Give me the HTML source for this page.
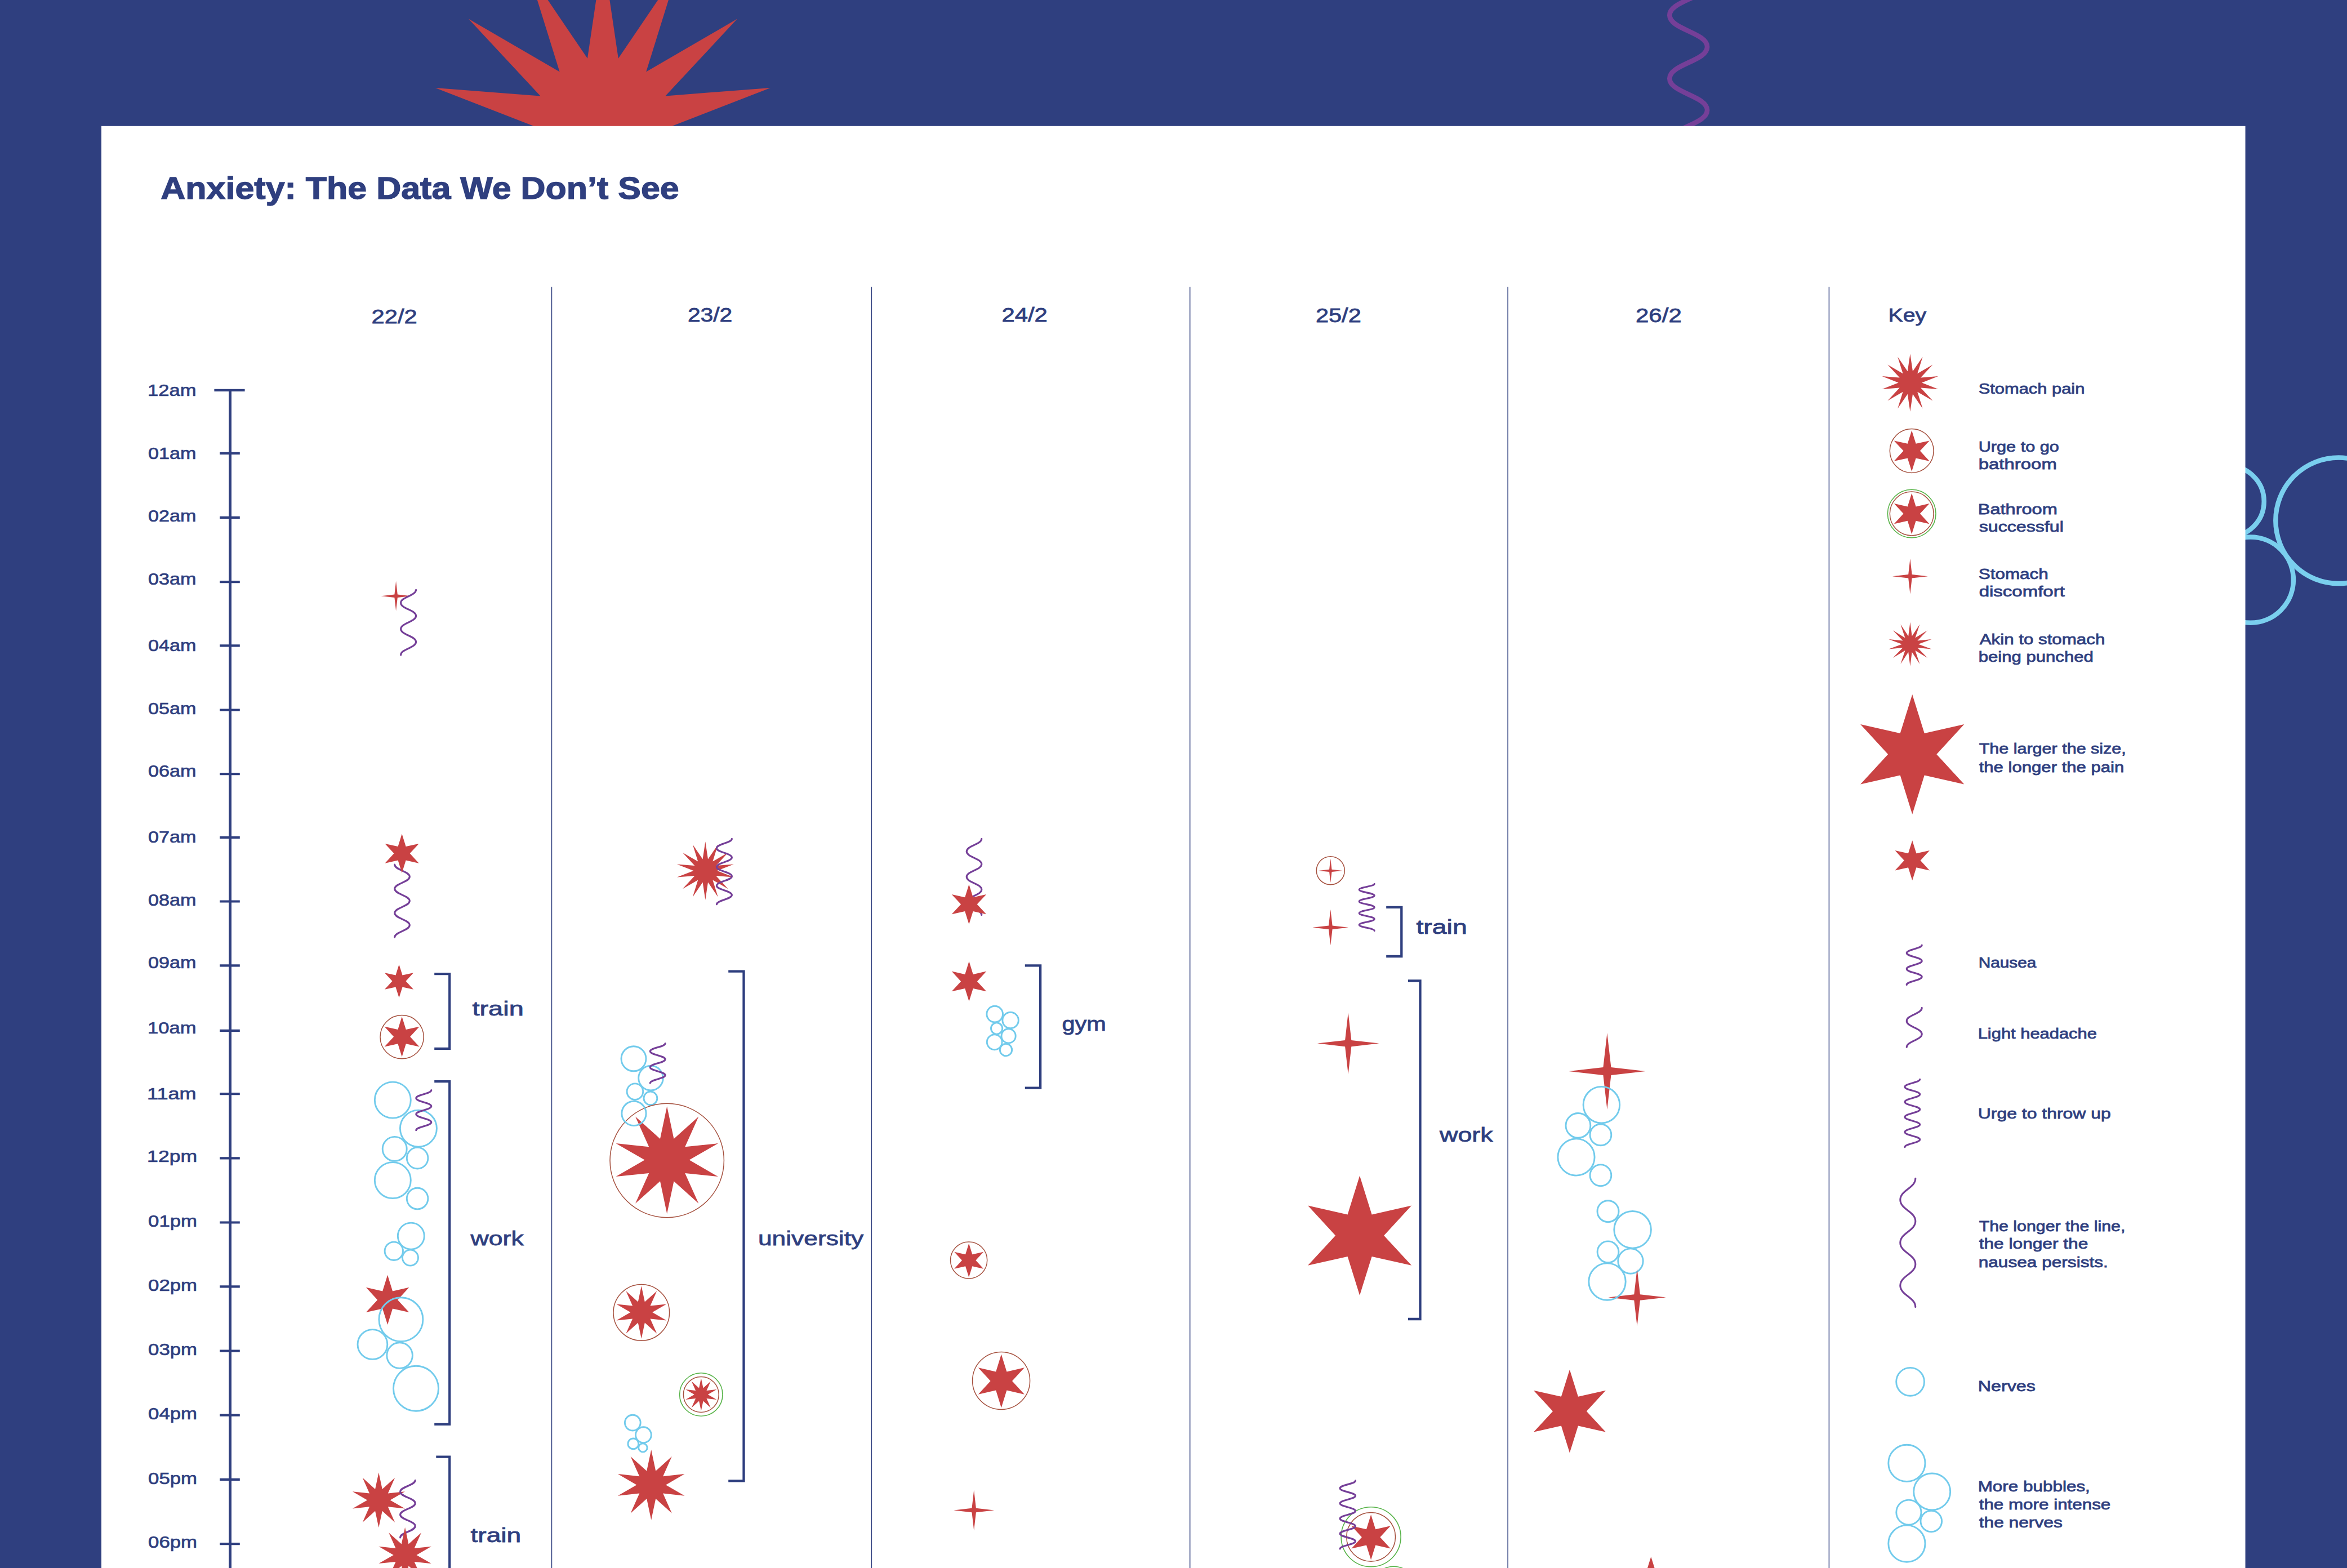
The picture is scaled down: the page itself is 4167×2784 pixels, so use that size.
<!DOCTYPE html>
<html lang="en">
<head>
<meta charset="utf-8">
<title>Anxiety: The Data We Don’t See</title>
<style>html,body{margin:0;padding:0;background:#2f3f7f;}body{width:4167px;height:2784px;overflow:hidden;}svg{display:block;}text{white-space:pre;}</style>
</head>
<body>
<svg width="4167" height="2784" viewBox="0 0 4167 2784">
<rect width="4167" height="2784" fill="#2f3f7f"/>
<polygon points="1070.4,-81.3 1097.8,103.8 1202.8,-51.1 1147.2,127.6 1308.9,33.6 1181.3,170.4 1367.9,155.9 1193.5,223.8 1367.9,291.7 1181.3,277.2 1308.9,414 1147.2,320 1202.8,498.7 1097.8,343.8 1070.4,528.9 1043,343.8 938,498.7 993.6,320 831.9,414 959.5,277.2 772.9,291.7 947.3,223.8 772.9,155.9 959.5,170.4 831.9,33.6 993.6,127.6 938,-51.1 1043,103.8" fill="#c94243"/>
<path d="M3031.1 -29.2C3031.1 -3.9 2964.3 1.7 2964.3 27C2964.3 52.3 3031.1 57.9 3031.1 83.2C3031.1 108.5 2964.3 114.1 2964.3 139.4C2964.3 164.7 3031.1 170.3 3031.1 195.6C3031.1 220.9 2964.3 226.5 2964.3 251.8C2964.3 277.1 3031.1 282.7 3031.1 308" fill="none" stroke="#753f98" stroke-width="8.7" stroke-linecap="round"/>
<circle cx="4152.1" cy="924.3" r="111.8" fill="none" stroke="#7acfee" stroke-width="8.5"/>
<circle cx="3995.8" cy="1029.6" r="76.1" fill="none" stroke="#7acfee" stroke-width="8.5"/>
<circle cx="3956.7" cy="890.2" r="63" fill="none" stroke="#7acfee" stroke-width="8.5"/>
<rect x="180" y="223.8" width="3806.5" height="2565.2" fill="#fff"/>
<g font-family='"Liberation Sans", sans-serif' fill="#2f3f7f">
<text x="285.35" y="352.8" font-size="55" textLength="920.39" lengthAdjust="spacingAndGlyphs" font-weight="bold" stroke="#2f3f7f" stroke-width="1.3">Anxiety: The Data We Don’t See</text>
<line x1="979.5" y1="509.6" x2="979.5" y2="2789" stroke="#2f3f7f" stroke-width="1.5"/>
<line x1="1547.4" y1="509.6" x2="1547.4" y2="2789" stroke="#2f3f7f" stroke-width="1.5"/>
<line x1="2112.7" y1="509.6" x2="2112.7" y2="2789" stroke="#2f3f7f" stroke-width="1.5"/>
<line x1="2677.1" y1="509.6" x2="2677.1" y2="2789" stroke="#2f3f7f" stroke-width="1.5"/>
<line x1="3247.4" y1="509.6" x2="3247.4" y2="2789" stroke="#2f3f7f" stroke-width="1.5"/>
<text x="659.43" y="574.4" font-size="35.7" textLength="81.40" lengthAdjust="spacingAndGlyphs" stroke="#2f3f7f" stroke-width="0.8">22/2</text>
<text x="1220.93" y="570.9" font-size="35.7" textLength="79.35" lengthAdjust="spacingAndGlyphs" stroke="#2f3f7f" stroke-width="0.8">23/2</text>
<text x="1778.43" y="570.9" font-size="35.7" textLength="81.39" lengthAdjust="spacingAndGlyphs" stroke="#2f3f7f" stroke-width="0.8">24/2</text>
<text x="2335.93" y="571.6" font-size="35.7" textLength="80.85" lengthAdjust="spacingAndGlyphs" stroke="#2f3f7f" stroke-width="0.8">25/2</text>
<text x="2903.93" y="571.6" font-size="35.7" textLength="81.89" lengthAdjust="spacingAndGlyphs" stroke="#2f3f7f" stroke-width="0.8">26/2</text>
<text x="3352.49" y="570.9" font-size="33.5" textLength="67.66" lengthAdjust="spacingAndGlyphs" stroke="#2f3f7f" stroke-width="0.8">Key</text>
<line x1="408.6" y1="691" x2="408.6" y2="2789" stroke="#2f3f7f" stroke-width="4.8"/>
<line x1="380.4" y1="692.9" x2="434.6" y2="692.9" stroke="#2f3f7f" stroke-width="4.2"/>
<text x="262.13" y="703.3" font-size="29" textLength="86.39" lengthAdjust="spacingAndGlyphs" stroke="#2f3f7f" stroke-width="0.7">12am</text>
<line x1="390.2" y1="804.9" x2="425.8" y2="804.9" stroke="#2f3f7f" stroke-width="4.2"/>
<text x="263.13" y="814.6" font-size="29" textLength="85.33" lengthAdjust="spacingAndGlyphs" stroke="#2f3f7f" stroke-width="0.7">01am</text>
<line x1="390.2" y1="918.9" x2="425.8" y2="918.9" stroke="#2f3f7f" stroke-width="4.2"/>
<text x="263.13" y="926.4" font-size="29" textLength="85.33" lengthAdjust="spacingAndGlyphs" stroke="#2f3f7f" stroke-width="0.7">02am</text>
<line x1="390.2" y1="1033.1" x2="425.8" y2="1033.1" stroke="#2f3f7f" stroke-width="4.2"/>
<text x="263.13" y="1037.5" font-size="29" textLength="85.33" lengthAdjust="spacingAndGlyphs" stroke="#2f3f7f" stroke-width="0.7">03am</text>
<line x1="390.2" y1="1146.3" x2="425.8" y2="1146.3" stroke="#2f3f7f" stroke-width="4.2"/>
<text x="263.13" y="1156.4" font-size="29" textLength="85.33" lengthAdjust="spacingAndGlyphs" stroke="#2f3f7f" stroke-width="0.7">04am</text>
<line x1="390.2" y1="1260.5" x2="425.8" y2="1260.5" stroke="#2f3f7f" stroke-width="4.2"/>
<text x="263.13" y="1267.6" font-size="29" textLength="85.33" lengthAdjust="spacingAndGlyphs" stroke="#2f3f7f" stroke-width="0.7">05am</text>
<line x1="390.2" y1="1374.2" x2="425.8" y2="1374.2" stroke="#2f3f7f" stroke-width="4.2"/>
<text x="263.13" y="1378.6" font-size="29" textLength="85.33" lengthAdjust="spacingAndGlyphs" stroke="#2f3f7f" stroke-width="0.7">06am</text>
<line x1="390.2" y1="1486.9" x2="425.8" y2="1486.9" stroke="#2f3f7f" stroke-width="4.2"/>
<text x="263.13" y="1496.3" font-size="29" textLength="85.33" lengthAdjust="spacingAndGlyphs" stroke="#2f3f7f" stroke-width="0.7">07am</text>
<line x1="390.2" y1="1600.5" x2="425.8" y2="1600.5" stroke="#2f3f7f" stroke-width="4.2"/>
<text x="263.13" y="1608.4" font-size="29" textLength="85.33" lengthAdjust="spacingAndGlyphs" stroke="#2f3f7f" stroke-width="0.7">08am</text>
<line x1="390.2" y1="1714.4" x2="425.8" y2="1714.4" stroke="#2f3f7f" stroke-width="4.2"/>
<text x="263.13" y="1719.3" font-size="29" textLength="85.33" lengthAdjust="spacingAndGlyphs" stroke="#2f3f7f" stroke-width="0.7">09am</text>
<line x1="390.2" y1="1829.8" x2="425.8" y2="1829.8" stroke="#2f3f7f" stroke-width="4.2"/>
<text x="262.13" y="1834.6" font-size="29" textLength="86.39" lengthAdjust="spacingAndGlyphs" stroke="#2f3f7f" stroke-width="0.7">10am</text>
<line x1="390.2" y1="1942.2" x2="425.8" y2="1942.2" stroke="#2f3f7f" stroke-width="4.2"/>
<text x="261.13" y="1951.9" font-size="29" textLength="87.43" lengthAdjust="spacingAndGlyphs" stroke="#2f3f7f" stroke-width="0.7">11am</text>
<line x1="390.2" y1="2056.4" x2="425.8" y2="2056.4" stroke="#2f3f7f" stroke-width="4.2"/>
<text x="261.13" y="2063.4" font-size="29" textLength="88.95" lengthAdjust="spacingAndGlyphs" stroke="#2f3f7f" stroke-width="0.7">12pm</text>
<line x1="390.2" y1="2170.5" x2="425.8" y2="2170.5" stroke="#2f3f7f" stroke-width="4.2"/>
<text x="263.13" y="2177.7" font-size="29" textLength="86.84" lengthAdjust="spacingAndGlyphs" stroke="#2f3f7f" stroke-width="0.7">01pm</text>
<line x1="390.2" y1="2284.4" x2="425.8" y2="2284.4" stroke="#2f3f7f" stroke-width="4.2"/>
<text x="263.13" y="2291.8" font-size="29" textLength="86.84" lengthAdjust="spacingAndGlyphs" stroke="#2f3f7f" stroke-width="0.7">02pm</text>
<line x1="390.2" y1="2398.6" x2="425.8" y2="2398.6" stroke="#2f3f7f" stroke-width="4.2"/>
<text x="263.13" y="2405.7" font-size="29" textLength="86.84" lengthAdjust="spacingAndGlyphs" stroke="#2f3f7f" stroke-width="0.7">03pm</text>
<line x1="390.2" y1="2512.6" x2="425.8" y2="2512.6" stroke="#2f3f7f" stroke-width="4.2"/>
<text x="263.13" y="2520" font-size="29" textLength="86.84" lengthAdjust="spacingAndGlyphs" stroke="#2f3f7f" stroke-width="0.7">04pm</text>
<line x1="390.2" y1="2626.9" x2="425.8" y2="2626.9" stroke="#2f3f7f" stroke-width="4.2"/>
<text x="263.13" y="2634.5" font-size="29" textLength="86.84" lengthAdjust="spacingAndGlyphs" stroke="#2f3f7f" stroke-width="0.7">05pm</text>
<line x1="390.2" y1="2741.1" x2="425.8" y2="2741.1" stroke="#2f3f7f" stroke-width="4.2"/>
<text x="263.13" y="2748.1" font-size="29" textLength="86.84" lengthAdjust="spacingAndGlyphs" stroke="#2f3f7f" stroke-width="0.7">06pm</text>
<polygon points="703.1,1031.7 705.8,1055.5 729.6,1058.2 705.8,1060.9 703.1,1084.7 700.4,1060.9 676.6,1058.2 700.4,1055.5" fill="#c94243"/>
<path d="M738.6 1047.3C738.6 1057.7 711.6 1060 711.6 1070.4C711.6 1080.8 738.6 1083.1 738.6 1093.5C738.6 1103.9 711.6 1106.3 711.6 1116.7C711.6 1127.1 738.6 1129.4 738.6 1139.8C738.6 1150.2 711.6 1152.5 711.6 1162.9" fill="none" stroke="#753f98" stroke-width="3.1" stroke-linecap="round"/>
<path d="M700.7 1535.1C700.7 1544.8 727.3 1546.9 727.3 1556.6C727.3 1566.3 700.7 1568.4 700.7 1578.1C700.7 1587.8 727.3 1589.9 727.3 1599.6C727.3 1609.3 700.7 1611.4 700.7 1621.1C700.7 1630.8 727.3 1632.9 727.3 1642.6C727.3 1652.3 700.7 1654.4 700.7 1664.1" fill="none" stroke="#753f98" stroke-width="3.1" stroke-linecap="round"/>
<polygon points="713.6,1480.5 720.6,1503.1 743.7,1497.9 727.7,1515.3 743.7,1532.7 720.6,1527.5 713.6,1550.1 706.6,1527.5 683.5,1532.7 699.5,1515.3 683.5,1497.9 706.6,1503.1" fill="#c94243"/>
<polygon points="708.5,1712.4 714.5,1731.6 734.1,1727.2 720.5,1742 734.1,1756.8 714.5,1752.4 708.5,1771.6 702.5,1752.4 682.9,1756.8 696.5,1742 682.9,1727.2 702.5,1731.6" fill="#c94243"/>
<circle cx="713.6" cy="1841.2" r="38.6" fill="none" stroke="#a5503e" stroke-width="1.5"/>
<polygon points="713.6,1804.9 720.8,1828.1 744.6,1822.8 728.1,1840.7 744.6,1858.6 720.8,1853.3 713.6,1876.5 706.4,1853.3 682.6,1858.6 699.1,1840.7 682.6,1822.8 706.4,1828.1" fill="#c94243"/>
<path d="M771.2 1729.2 H798.2 V1861.8 H771.2" fill="none" stroke="#2f3f7f" stroke-width="4.2" stroke-linejoin="miter"/>
<text x="838.47" y="1802.8" font-size="34.5" textLength="91.27" lengthAdjust="spacingAndGlyphs" stroke="#2f3f7f" stroke-width="0.8">train</text>
<circle cx="697.3" cy="1953.1" r="32" fill="none" stroke="#72cbec" stroke-width="2.9"/>
<circle cx="742.9" cy="2003.6" r="32.5" fill="none" stroke="#72cbec" stroke-width="2.9"/>
<circle cx="700.7" cy="2039.9" r="21.5" fill="none" stroke="#72cbec" stroke-width="2.9"/>
<circle cx="741.1" cy="2056.2" r="18.8" fill="none" stroke="#72cbec" stroke-width="2.9"/>
<circle cx="697.3" cy="2095.6" r="32" fill="none" stroke="#72cbec" stroke-width="2.9"/>
<circle cx="741.1" cy="2128.1" r="18.8" fill="none" stroke="#72cbec" stroke-width="2.9"/>
<circle cx="729.8" cy="2194.6" r="23.5" fill="none" stroke="#72cbec" stroke-width="2.9"/>
<circle cx="699.3" cy="2221.3" r="16.2" fill="none" stroke="#72cbec" stroke-width="2.9"/>
<circle cx="728.5" cy="2233.1" r="14" fill="none" stroke="#72cbec" stroke-width="2.9"/>
<path d="M765.8 1935.6C765.8 1942 738.8 1943.4 738.8 1949.8C738.8 1956.2 765.8 1957.7 765.8 1964.1C765.8 1970.5 738.8 1971.9 738.8 1978.3C738.8 1984.7 765.8 1986.2 765.8 1992.6C765.8 1999 738.8 2000.4 738.8 2006.8" fill="none" stroke="#753f98" stroke-width="3.1" stroke-linecap="round"/>
<polygon points="688.1,2263.8 697,2292.4 726.3,2285.8 706,2307.9 726.3,2330 697,2323.4 688.1,2352 679.2,2323.4 649.9,2330 670.2,2307.9 649.9,2285.8 679.2,2292.4" fill="#c94243"/>
<circle cx="711.9" cy="2342.7" r="39" fill="none" stroke="#72cbec" stroke-width="2.9"/>
<circle cx="661.4" cy="2387" r="26.4" fill="none" stroke="#72cbec" stroke-width="2.9"/>
<circle cx="709.6" cy="2406.6" r="22.8" fill="none" stroke="#72cbec" stroke-width="2.9"/>
<circle cx="738.5" cy="2465.2" r="40" fill="none" stroke="#72cbec" stroke-width="2.9"/>
<path d="M771.2 1920.2 H798.2 V2528.8 H771.2" fill="none" stroke="#2f3f7f" stroke-width="4.2" stroke-linejoin="miter"/>
<text x="835.46" y="2210.6" font-size="34.5" textLength="94.28" lengthAdjust="spacingAndGlyphs" stroke="#2f3f7f" stroke-width="0.8">work</text>
<polygon points="672.4,2614.5 678.7,2644.1 701.1,2623.8 688.8,2651.5 718.9,2648.3 692.7,2663.4 718.9,2678.5 688.8,2675.3 701.1,2703 678.7,2682.7 672.4,2712.3 666.1,2682.7 643.7,2703 656,2675.3 625.9,2678.5 652.1,2663.4 625.9,2648.3 656,2651.5 643.7,2623.8 666.1,2644.1" fill="#c94243"/>
<path d="M737.2 2628.3C737.2 2637.4 710.6 2639.5 710.6 2648.6C710.6 2657.8 737.2 2659.8 737.2 2668.9C737.2 2678.1 710.6 2680.1 710.6 2689.3C710.6 2698.4 737.2 2700.4 737.2 2709.6C737.2 2718.7 710.6 2720.8 710.6 2729.9" fill="none" stroke="#753f98" stroke-width="3.1" stroke-linecap="round"/>
<polygon points="719.1,2711.8 725.4,2741.5 748,2721.2 735.6,2748.9 765.8,2745.7 739.5,2760.9 765.8,2776.1 735.6,2772.9 748,2800.6 725.4,2780.3 719.1,2810 712.8,2780.3 690.2,2800.6 702.6,2772.9 672.4,2776.1 698.7,2760.9 672.4,2745.7 702.6,2748.9 690.2,2721.2 712.8,2741.5" fill="#c94243"/>
<path d="M774.3 2586.7 H798.2 V2794" fill="none" stroke="#2f3f7f" stroke-width="4.2" stroke-linejoin="miter"/>
<text x="835.46" y="2738.1" font-size="34.5" textLength="89.75" lengthAdjust="spacingAndGlyphs" stroke="#2f3f7f" stroke-width="0.8">train</text>
<polygon points="1252.3,1494.3 1257,1525.6 1274.7,1499.4 1265.4,1529.6 1292.7,1513.8 1271.2,1536.9 1302.7,1534.5 1273.2,1546 1302.7,1557.5 1271.2,1555.1 1292.7,1578.2 1265.4,1562.4 1274.7,1592.6 1257,1566.4 1252.3,1597.7 1247.6,1566.4 1229.9,1592.6 1239.2,1562.4 1211.9,1578.2 1233.4,1555.1 1201.9,1557.5 1231.4,1546 1201.9,1534.5 1233.4,1536.9 1211.9,1513.8 1239.2,1529.6 1229.9,1499.4 1247.6,1525.6" fill="#c94243"/>
<path d="M1299.4 1489.2C1299.4 1496.7 1272.4 1498.4 1272.4 1505.9C1272.4 1513.3 1299.4 1515 1299.4 1522.5C1299.4 1530 1272.4 1531.7 1272.4 1539.2C1272.4 1546.6 1299.4 1548.3 1299.4 1555.8C1299.4 1563.3 1272.4 1565 1272.4 1572.5C1272.4 1579.9 1299.4 1581.6 1299.4 1589.1C1299.4 1596.6 1272.4 1598.3 1272.4 1605.8" fill="none" stroke="#753f98" stroke-width="3.1" stroke-linecap="round"/>
<circle cx="1125" cy="1879.8" r="22" fill="none" stroke="#72cbec" stroke-width="2.9"/>
<circle cx="1155.5" cy="1914.1" r="21.8" fill="none" stroke="#72cbec" stroke-width="2.9"/>
<circle cx="1127.4" cy="1938.2" r="14.3" fill="none" stroke="#72cbec" stroke-width="2.9"/>
<circle cx="1154.9" cy="1949.9" r="11.9" fill="none" stroke="#72cbec" stroke-width="2.9"/>
<path d="M1181.1 1852.5C1181.1 1858.9 1154.3 1860.3 1154.3 1866.6C1154.3 1873 1181.1 1874.4 1181.1 1880.7C1181.1 1887.1 1154.3 1888.5 1154.3 1894.9C1154.3 1901.2 1181.1 1902.6 1181.1 1909C1181.1 1915.3 1154.3 1916.7 1154.3 1923.1" fill="none" stroke="#753f98" stroke-width="3.1" stroke-linecap="round"/>
<circle cx="1184.2" cy="2060.5" r="101.2" fill="none" stroke="#a5503e" stroke-width="1.5"/>
<polygon points="1184.2,1964.2 1196.4,2021.9 1240.3,1982.4 1216.2,2036.3 1274.9,2030.1 1223.8,2059.6 1274.9,2089.1 1216.2,2082.9 1240.3,2136.8 1196.4,2097.3 1184.2,2155 1172,2097.3 1128.1,2136.8 1152.2,2082.9 1093.5,2089.1 1144.6,2059.6 1093.5,2030.1 1152.2,2036.3 1128.1,1982.4 1172,2021.9" fill="#c94243"/>
<circle cx="1125.5" cy="1976.9" r="21.6" fill="none" stroke="#72cbec" stroke-width="2.9"/>
<circle cx="1138.8" cy="2330.4" r="49.8" fill="none" stroke="#a5503e" stroke-width="1.5"/>
<polygon points="1138.8,2283.3 1144.8,2311.6 1166.2,2292.2 1154.5,2318.6 1183.2,2315.6 1158.2,2330 1183.2,2344.4 1154.5,2341.4 1166.2,2367.8 1144.8,2348.4 1138.8,2376.7 1132.8,2348.4 1111.4,2367.8 1123.1,2341.4 1094.4,2344.4 1119.4,2330 1094.4,2315.6 1123.1,2318.6 1111.4,2292.2 1132.8,2311.6" fill="#c94243"/>
<circle cx="1244.8" cy="2476" r="38.2" fill="none" stroke="#57b348" stroke-width="1.6"/>
<circle cx="1244.8" cy="2476" r="31.4" fill="none" stroke="#a5503e" stroke-width="1.5"/>
<polygon points="1244.8,2447 1248.5,2464.6 1261.8,2452.5 1254.5,2468.9 1272.4,2467 1256.8,2476 1272.4,2485 1254.5,2483.1 1261.8,2499.5 1248.5,2487.4 1244.8,2505 1241.1,2487.4 1227.8,2499.5 1235.1,2483.1 1217.2,2485 1232.8,2476 1217.2,2467 1235.1,2468.9 1227.8,2452.5 1241.1,2464.6" fill="#c94243"/>
<circle cx="1123.3" cy="2526.1" r="13.9" fill="none" stroke="#72cbec" stroke-width="2.9"/>
<circle cx="1142.4" cy="2547.7" r="13.9" fill="none" stroke="#72cbec" stroke-width="2.9"/>
<circle cx="1124.3" cy="2563.4" r="9.4" fill="none" stroke="#72cbec" stroke-width="2.9"/>
<circle cx="1141.4" cy="2570.4" r="7.7" fill="none" stroke="#72cbec" stroke-width="2.9"/>
<polygon points="1156.2,2574.1 1164.2,2611.8 1192.8,2586 1177.1,2621.2 1215.5,2617.1 1182.1,2636.4 1215.5,2655.7 1177.1,2651.6 1192.8,2686.8 1164.2,2661 1156.2,2698.7 1148.2,2661 1119.6,2686.8 1135.3,2651.6 1096.9,2655.7 1130.3,2636.4 1096.9,2617.1 1135.3,2621.2 1119.6,2586 1148.2,2611.8" fill="#c94243"/>
<path d="M1293.2 1724.7 H1320.5 V2629.3 H1293.2" fill="none" stroke="#2f3f7f" stroke-width="4.3" stroke-linejoin="miter"/>
<text x="1345.96" y="2210.8" font-size="34.5" textLength="187.26" lengthAdjust="spacingAndGlyphs" stroke="#2f3f7f" stroke-width="0.8">university</text>
<path d="M1742.8 1489.2C1742.8 1499.3 1716.2 1501.6 1716.2 1511.8C1716.2 1521.9 1742.8 1524.2 1742.8 1534.3C1742.8 1544.4 1716.2 1546.7 1716.2 1556.8C1716.2 1567 1742.8 1569.3 1742.8 1579.4C1742.8 1589.5 1716.2 1591.8 1716.2 1601.9C1716.2 1612.1 1742.8 1614.4 1742.8 1624.5" fill="none" stroke="#753f98" stroke-width="3.1" stroke-linecap="round"/>
<polygon points="1720.4,1570.2 1727.6,1593.2 1751.1,1587.9 1734.7,1605.6 1751.1,1623.3 1727.6,1618 1720.4,1641 1713.2,1618 1689.7,1623.3 1706.1,1605.6 1689.7,1587.9 1713.2,1593.2" fill="#c94243"/>
<polygon points="1720.5,1706.8 1727.7,1729.9 1751.3,1724.6 1734.9,1742.4 1751.3,1760.2 1727.7,1754.9 1720.5,1778 1713.3,1754.9 1689.7,1760.2 1706.1,1742.4 1689.7,1724.6 1713.3,1729.9" fill="#c94243"/>
<circle cx="1766.2" cy="1800.6" r="14.3" fill="none" stroke="#72cbec" stroke-width="2.9"/>
<circle cx="1794.1" cy="1811.5" r="14.2" fill="none" stroke="#72cbec" stroke-width="2.9"/>
<circle cx="1769.6" cy="1826" r="10.1" fill="none" stroke="#72cbec" stroke-width="2.9"/>
<circle cx="1790.6" cy="1839.4" r="12.6" fill="none" stroke="#72cbec" stroke-width="2.9"/>
<circle cx="1765.7" cy="1850.3" r="13.4" fill="none" stroke="#72cbec" stroke-width="2.9"/>
<circle cx="1786" cy="1864" r="10.7" fill="none" stroke="#72cbec" stroke-width="2.9"/>
<path d="M1819.8 1714.4 H1847.1 V1931.7 H1819.8" fill="none" stroke="#2f3f7f" stroke-width="4.3" stroke-linejoin="miter"/>
<text x="1885.46" y="1830" font-size="34.5" textLength="78.29" lengthAdjust="spacingAndGlyphs" stroke="#2f3f7f" stroke-width="0.8">gym</text>
<circle cx="1720.1" cy="2237.5" r="32.6" fill="none" stroke="#a5503e" stroke-width="1.5"/>
<polygon points="1720.2,2207.8 1726.3,2227.3 1746.2,2222.8 1732.4,2237.8 1746.2,2252.8 1726.3,2248.3 1720.2,2267.8 1714.1,2248.3 1694.2,2252.8 1708,2237.8 1694.2,2222.8 1714.1,2227.3" fill="#c94243"/>
<circle cx="1777.6" cy="2451.4" r="51" fill="none" stroke="#a5503e" stroke-width="1.5"/>
<polygon points="1777.8,2404.6 1787.4,2435.4 1818.8,2428.3 1797,2452 1818.8,2475.7 1787.4,2468.6 1777.8,2499.4 1768.2,2468.6 1736.8,2475.7 1758.6,2452 1736.8,2428.3 1768.2,2435.4" fill="#c94243"/>
<polygon points="1729.2,2645.4 1732.9,2677.8 1765.3,2681.5 1732.9,2685.2 1729.2,2717.6 1725.5,2685.2 1693.1,2681.5 1725.5,2677.8" fill="#c94243"/>
<circle cx="2362.3" cy="1545.7" r="25" fill="none" stroke="#a5503e" stroke-width="1.5"/>
<polygon points="2362.3,1524.5 2364.5,1543.7 2383.7,1545.9 2364.5,1548.1 2362.3,1567.3 2360.1,1548.1 2340.9,1545.9 2360.1,1543.7" fill="#c94243"/>
<polygon points="2362.3,1614.8 2365.6,1643.4 2394.2,1646.7 2365.6,1650 2362.3,1678.6 2359,1650 2330.4,1646.7 2359,1643.4" fill="#c94243"/>
<path d="M2440.2 1569.2C2440.2 1573.9 2413.2 1574.9 2413.2 1579.6C2413.2 1584.3 2440.2 1585.4 2440.2 1590C2440.2 1594.7 2413.2 1595.8 2413.2 1600.5C2413.2 1605.1 2440.2 1606.2 2440.2 1610.9C2440.2 1615.6 2413.2 1616.6 2413.2 1621.3C2413.2 1626 2440.2 1627 2440.2 1631.7C2440.2 1636.4 2413.2 1637.5 2413.2 1642.1C2413.2 1646.8 2440.2 1647.9 2440.2 1652.6" fill="none" stroke="#753f98" stroke-width="3.1" stroke-linecap="round"/>
<path d="M2461.2 1610.9 H2488.3 V1698 H2461.2" fill="none" stroke="#2f3f7f" stroke-width="4.3" stroke-linejoin="miter"/>
<text x="2514.46" y="1658.4" font-size="34.5" textLength="90.26" lengthAdjust="spacingAndGlyphs" stroke="#2f3f7f" stroke-width="0.8">train</text>
<polygon points="2393.7,1797.8 2399.3,1847 2448.5,1852.6 2399.3,1858.2 2393.7,1907.4 2388.1,1858.2 2338.9,1852.6 2388.1,1847" fill="#c94243"/>
<polygon points="2414.1,2087.5 2435.6,2156.5 2506.1,2140.6 2457.1,2193.7 2506.1,2246.8 2435.6,2230.9 2414.1,2299.9 2392.6,2230.9 2322.1,2246.8 2371.1,2193.7 2322.1,2140.6 2392.6,2156.5" fill="#c94243"/>
<path d="M2500 1741.5 H2521.5 V2342 H2500" fill="none" stroke="#2f3f7f" stroke-width="4.3" stroke-linejoin="miter"/>
<text x="2555.97" y="2027.4" font-size="34.5" textLength="94.76" lengthAdjust="spacingAndGlyphs" stroke="#2f3f7f" stroke-width="0.8">work</text>
<circle cx="2434.1" cy="2728.8" r="53" fill="none" stroke="#57b348" stroke-width="1.6"/>
<circle cx="2434.1" cy="2728.8" r="43.4" fill="none" stroke="#a5503e" stroke-width="1.5"/>
<polygon points="2434.1,2689.2 2442.2,2715.2 2468.8,2709.2 2450.3,2729.3 2468.8,2749.4 2442.2,2743.4 2434.1,2769.4 2426,2743.4 2399.4,2749.4 2417.9,2729.3 2399.4,2709.2 2426,2715.2" fill="#c94243"/>
<circle cx="2474.5" cy="2819.6" r="38.4" fill="none" stroke="#57b348" stroke-width="1.6"/>
<path d="M2406.5 2628.9C2406.5 2635 2379.1 2636.3 2379.1 2642.4C2379.1 2648.4 2406.5 2649.8 2406.5 2655.8C2406.5 2661.9 2379.1 2663.2 2379.1 2669.3C2379.1 2675.3 2406.5 2676.7 2406.5 2682.7C2406.5 2688.8 2379.1 2690.1 2379.1 2696.2C2379.1 2702.3 2406.5 2703.6 2406.5 2709.7C2406.5 2715.7 2379.1 2717.1 2379.1 2723.1C2379.1 2729.2 2406.5 2730.5 2406.5 2736.6C2406.5 2742.6 2379.1 2744 2379.1 2750" fill="none" stroke="#753f98" stroke-width="3.2" stroke-linecap="round"/>
<polygon points="2853.4,1834.1 2860.4,1895.1 2921.4,1902.1 2860.4,1909.1 2853.4,1970.1 2846.4,1909.1 2785.4,1902.1 2846.4,1895.1" fill="#c94243"/>
<circle cx="2843.4" cy="1961.7" r="32.3" fill="none" stroke="#72cbec" stroke-width="2.9"/>
<circle cx="2801.9" cy="1998.4" r="21.9" fill="none" stroke="#72cbec" stroke-width="2.9"/>
<circle cx="2841.9" cy="2014.9" r="18.9" fill="none" stroke="#72cbec" stroke-width="2.9"/>
<circle cx="2798.5" cy="2054.5" r="32.6" fill="none" stroke="#72cbec" stroke-width="2.9"/>
<circle cx="2841.9" cy="2086.8" r="18.9" fill="none" stroke="#72cbec" stroke-width="2.9"/>
<circle cx="2855" cy="2150.7" r="19" fill="none" stroke="#72cbec" stroke-width="2.9"/>
<circle cx="2898.6" cy="2183.3" r="32.8" fill="none" stroke="#72cbec" stroke-width="2.9"/>
<circle cx="2855" cy="2222.8" r="18.9" fill="none" stroke="#72cbec" stroke-width="2.9"/>
<circle cx="2895" cy="2239.1" r="22.2" fill="none" stroke="#72cbec" stroke-width="2.9"/>
<polygon points="2906.6,2252.2 2911.9,2298.2 2957.9,2303.5 2911.9,2308.8 2906.6,2354.8 2901.3,2308.8 2855.3,2303.5 2901.3,2298.2" fill="#c94243"/>
<circle cx="2853.5" cy="2275.6" r="32.7" fill="none" stroke="#72cbec" stroke-width="2.9"/>
<polygon points="2786.9,2431.8 2801.9,2479.8 2850.9,2468.8 2816.8,2505.7 2850.9,2542.6 2801.9,2531.6 2786.9,2579.6 2771.9,2531.6 2722.9,2542.6 2757,2505.7 2722.9,2468.8 2771.9,2479.8" fill="#c94243"/>
<polygon points="2931.3,2764 2943.9,2804.3 2985,2795 2956.4,2826 2985,2857 2943.9,2847.7 2931.3,2888 2918.7,2847.7 2877.6,2857 2906.2,2826 2877.6,2795 2918.7,2804.3" fill="#c94243"/>
<polygon points="3391.4,628.3 3396,659.3 3413.6,633.4 3404.3,663.3 3431.4,647.6 3410.1,670.5 3441.3,668.1 3412.1,679.5 3441.3,690.9 3410.1,688.5 3431.4,711.4 3404.3,695.7 3413.6,725.6 3396,699.7 3391.4,730.7 3386.8,699.7 3369.2,725.6 3378.5,695.7 3351.4,711.4 3372.7,688.5 3341.5,690.9 3370.7,679.5 3341.5,668.1 3372.7,670.5 3351.4,647.6 3378.5,663.3 3369.2,633.4 3386.8,659.3" fill="#c94243"/>
<text x="3512.70" y="699.2" font-size="26.5" textLength="188.64" lengthAdjust="spacingAndGlyphs" stroke="#2f3f7f" stroke-width="0.8">Stomach pain</text>
<circle cx="3394.2" cy="800.5" r="38.9" fill="none" stroke="#a5503e" stroke-width="1.5"/>
<polygon points="3394.2,764.2 3401.6,787.8 3425.7,782.4 3408.9,800.6 3425.7,818.8 3401.6,813.4 3394.2,837 3386.8,813.4 3362.7,818.8 3379.5,800.6 3362.7,782.4 3386.8,787.8" fill="#c94243"/>
<text x="3512.70" y="801.7" font-size="26.5" textLength="143.13" lengthAdjust="spacingAndGlyphs" stroke="#2f3f7f" stroke-width="0.8">Urge to go</text>
<text x="3512.70" y="832.6" font-size="26.5" textLength="139.14" lengthAdjust="spacingAndGlyphs" stroke="#2f3f7f" stroke-width="0.8">bathroom</text>
<circle cx="3394.2" cy="912" r="42.8" fill="none" stroke="#57b348" stroke-width="1.6"/>
<circle cx="3394.2" cy="912" r="38.9" fill="none" stroke="#a5503e" stroke-width="1.5"/>
<polygon points="3394.2,875.8 3401.6,899.4 3425.6,894 3408.9,912.1 3425.6,930.2 3401.6,924.8 3394.2,948.4 3386.8,924.8 3362.8,930.2 3379.5,912.1 3362.8,894 3386.8,899.4" fill="#c94243"/>
<text x="3511.70" y="913" font-size="26.5" textLength="141.16" lengthAdjust="spacingAndGlyphs" stroke="#2f3f7f" stroke-width="0.8">Bathroom</text>
<text x="3513.70" y="944.2" font-size="26.5" textLength="150.13" lengthAdjust="spacingAndGlyphs" stroke="#2f3f7f" stroke-width="0.8">successful</text>
<polygon points="3391.4,991.7 3394.6,1020 3422.9,1023.2 3394.6,1026.4 3391.4,1054.7 3388.2,1026.4 3359.9,1023.2 3388.2,1020" fill="#c94243"/>
<text x="3512.70" y="1027.8" font-size="26.5" textLength="124.15" lengthAdjust="spacingAndGlyphs" stroke="#2f3f7f" stroke-width="0.8">Stomach</text>
<text x="3513.70" y="1059.3" font-size="26.5" textLength="152.12" lengthAdjust="spacingAndGlyphs" stroke="#2f3f7f" stroke-width="0.8">discomfort</text>
<polygon points="3391.4,1104.6 3394.6,1129.6 3408.4,1108.5 3400.4,1132.4 3422,1119.3 3404.4,1137.4 3429.5,1135 3405.9,1143.7 3429.5,1152.4 3404.4,1150 3422,1168.1 3400.4,1155 3408.4,1178.9 3394.6,1157.8 3391.4,1182.8 3388.2,1157.8 3374.4,1178.9 3382.4,1155 3360.8,1168.1 3378.4,1150 3353.3,1152.4 3376.9,1143.7 3353.3,1135 3378.4,1137.4 3360.8,1119.3 3382.4,1132.4 3374.4,1108.5 3388.2,1129.6" fill="#c94243"/>
<text x="3514.70" y="1143.5" font-size="26.5" textLength="222.61" lengthAdjust="spacingAndGlyphs" stroke="#2f3f7f" stroke-width="0.8">Akin to stomach</text>
<text x="3512.70" y="1175" font-size="26.5" textLength="204.13" lengthAdjust="spacingAndGlyphs" stroke="#2f3f7f" stroke-width="0.8">being punched</text>
<polygon points="3395.2,1232.9 3416.7,1302 3487.3,1286.1 3438.3,1339.3 3487.3,1392.5 3416.7,1376.6 3395.2,1445.7 3373.7,1376.6 3303.1,1392.5 3352.1,1339.3 3303.1,1286.1 3373.7,1302" fill="#c94243"/>
<text x="3513.70" y="1338" font-size="26.5" textLength="261.12" lengthAdjust="spacingAndGlyphs" stroke="#2f3f7f" stroke-width="0.8">The larger the size,</text>
<text x="3513.70" y="1370.5" font-size="26.5" textLength="257.62" lengthAdjust="spacingAndGlyphs" stroke="#2f3f7f" stroke-width="0.8">the longer the pain</text>
<polygon points="3395.2,1492.3 3402.4,1515.3 3425.9,1510 3409.6,1527.8 3425.9,1545.5 3402.4,1540.3 3395.2,1563.3 3388,1540.3 3364.5,1545.5 3380.8,1527.8 3364.5,1510 3388,1515.3" fill="#c94243"/>
<path d="M3412.2 1678C3412.2 1684.3 3385.2 1685.7 3385.2 1692.1C3385.2 1698.4 3412.2 1699.8 3412.2 1706.2C3412.2 1712.5 3385.2 1713.9 3385.2 1720.2C3385.2 1726.6 3412.2 1728 3412.2 1734.3C3412.2 1740.7 3385.2 1742.1 3385.2 1748.4" fill="none" stroke="#753f98" stroke-width="3.1" stroke-linecap="round"/>
<text x="3512.70" y="1718.4" font-size="26.5" textLength="102.61" lengthAdjust="spacingAndGlyphs" stroke="#2f3f7f" stroke-width="0.8">Nausea</text>
<path d="M3412.2 1789.4C3412.2 1799.9 3385.2 1802.2 3385.2 1812.7C3385.2 1823.2 3412.2 1825.5 3412.2 1836C3412.2 1846.5 3385.2 1848.8 3385.2 1859.3" fill="none" stroke="#753f98" stroke-width="3.1" stroke-linecap="round"/>
<text x="3511.70" y="1843.9" font-size="26.5" textLength="211.15" lengthAdjust="spacingAndGlyphs" stroke="#2f3f7f" stroke-width="0.8">Light headache</text>
<path d="M3408.7 1916.3C3408.7 1922.3 3381.9 1923.7 3381.9 1929.7C3381.9 1935.7 3408.7 1937 3408.7 1943.1C3408.7 1949.1 3381.9 1950.4 3381.9 1956.4C3381.9 1962.5 3408.7 1963.8 3408.7 1969.8C3408.7 1975.8 3381.9 1977.2 3381.9 1983.2C3381.9 1989.2 3408.7 1990.6 3408.7 1996.6C3408.7 2002.6 3381.9 2003.9 3381.9 2010C3381.9 2016 3408.7 2017.3 3408.7 2023.3C3408.7 2029.4 3381.9 2030.7 3381.9 2036.7" fill="none" stroke="#753f98" stroke-width="3.1" stroke-linecap="round"/>
<text x="3511.70" y="1986.3" font-size="26.5" textLength="236.13" lengthAdjust="spacingAndGlyphs" stroke="#2f3f7f" stroke-width="0.8">Urge to throw up</text>
<path d="M3400.8 2092.2C3400.8 2109.3 3373.8 2113.1 3373.8 2130.2C3373.8 2147.4 3400.8 2151.2 3400.8 2168.3C3400.8 2185.4 3373.8 2189.2 3373.8 2206.4C3373.8 2223.5 3400.8 2227.3 3400.8 2244.4C3400.8 2261.5 3373.8 2265.3 3373.8 2282.5C3373.8 2299.6 3400.8 2303.4 3400.8 2320.5" fill="none" stroke="#753f98" stroke-width="3.1" stroke-linecap="round"/>
<text x="3513.70" y="2185.8" font-size="26.5" textLength="259.63" lengthAdjust="spacingAndGlyphs" stroke="#2f3f7f" stroke-width="0.8">The longer the line,</text>
<text x="3513.70" y="2217.4" font-size="26.5" textLength="193.62" lengthAdjust="spacingAndGlyphs" stroke="#2f3f7f" stroke-width="0.8">the longer the</text>
<text x="3512.70" y="2249.8" font-size="26.5" textLength="230.14" lengthAdjust="spacingAndGlyphs" stroke="#2f3f7f" stroke-width="0.8">nausea persists.</text>
<circle cx="3391.6" cy="2453.3" r="24.9" fill="none" stroke="#72cbec" stroke-width="2.9"/>
<text x="3511.70" y="2470.4" font-size="26.5" textLength="102.17" lengthAdjust="spacingAndGlyphs" stroke="#2f3f7f" stroke-width="0.8">Nerves</text>
<circle cx="3385.4" cy="2597.9" r="32.6" fill="none" stroke="#72cbec" stroke-width="2.9"/>
<circle cx="3430.2" cy="2648.5" r="32.5" fill="none" stroke="#72cbec" stroke-width="2.9"/>
<circle cx="3388.9" cy="2685.2" r="22.1" fill="none" stroke="#72cbec" stroke-width="2.9"/>
<circle cx="3428.8" cy="2701" r="18.8" fill="none" stroke="#72cbec" stroke-width="2.9"/>
<circle cx="3385.4" cy="2740.7" r="32.6" fill="none" stroke="#72cbec" stroke-width="2.9"/>
<text x="3511.70" y="2648.2" font-size="26.5" textLength="199.17" lengthAdjust="spacingAndGlyphs" stroke="#2f3f7f" stroke-width="0.8">More bubbles,</text>
<text x="3513.70" y="2680" font-size="26.5" textLength="233.63" lengthAdjust="spacingAndGlyphs" stroke="#2f3f7f" stroke-width="0.8">the more intense</text>
<text x="3513.70" y="2711.6" font-size="26.5" textLength="148.12" lengthAdjust="spacingAndGlyphs" stroke="#2f3f7f" stroke-width="0.8">the nerves</text>
</g>
</svg>
</body>
</html>
